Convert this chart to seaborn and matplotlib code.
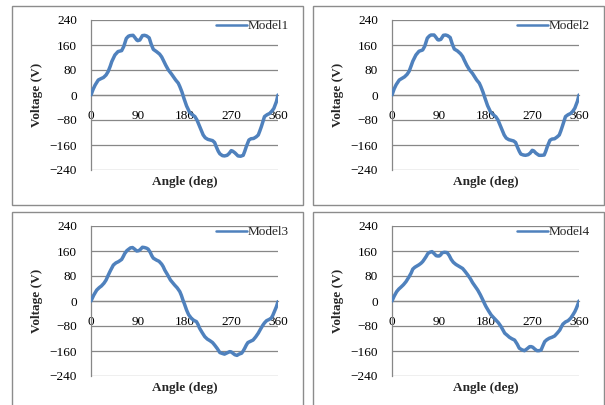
import matplotlib
matplotlib.use("Agg")
import matplotlib.pyplot as plt
from matplotlib.patches import Rectangle
import pandas as pd
import seaborn as sns

# Phase voltage over one electrical period for each machine model
angle_m1 = [0, 4, 8, 14, 20, 24, 29, 33, 37, 40, 46, 52, 59, 63, 68, 72, 75, 81, 84, 88,
            90, 94, 99, 103, 107, 112, 116, 120, 126, 132, 136, 139, 144, 149, 155, 163, 168, 171, 175, 179,
            184, 190, 195, 200, 204, 208, 216, 220, 225, 234, 238, 241, 245, 248, 253, 257, 262, 266, 270, 273,
            277, 283, 288, 293, 296, 299, 304, 308, 313, 318, 322, 325, 328, 334, 339, 344, 348, 352, 357, 360]
volt_m1 = [0, 18, 32, 48, 53, 56, 64, 75, 92, 107, 128, 139, 142, 155, 181, 188, 190, 191, 185, 176,
           174, 176, 190, 191, 189, 183, 162, 146, 139, 131, 122, 112, 95, 80, 67, 48, 38, 27, 10, -11,
           -35, -56, -63, -69, -80, -96, -128, -137, -142, -146, -152, -165, -180, -188, -194, -195, -193, -187, -178, -180,
           -185, -195, -196, -193, -180, -165, -144, -140, -139, -134, -128, -115, -101, -69, -63, -59, -52, -43, -21, 0]

angle_m2 = [0, 4, 8, 14, 20, 24, 29, 33, 37, 40, 46, 52, 59, 63, 68, 72, 75, 81, 84, 88,
            90, 94, 99, 103, 107, 112, 116, 120, 126, 132, 136, 139, 144, 149, 155, 163, 168, 171, 175, 179,
            184, 190, 195, 200, 204, 208, 216, 220, 225, 234, 238, 241, 245, 248, 253, 257, 262, 266, 270, 273,
            277, 283, 288, 293, 296, 299, 304, 308, 313, 318, 322, 325, 328, 334, 339, 344, 348, 352, 357, 360]
volt_m2 = [0, 19, 33, 48, 54, 58, 66, 76, 94, 108, 128, 140, 144, 156, 182, 189, 192, 192, 186, 177,
           176, 178, 191, 192, 190, 184, 163, 147, 141, 132, 123, 112, 95, 81, 69, 48, 38, 27, 10, -10,
           -34, -55, -63, -70, -80, -96, -128, -138, -143, -147, -152, -165, -180, -189, -192, -193, -191, -186, -177, -179,
           -186, -193, -193, -192, -180, -165, -145, -141, -140, -134, -128, -115, -100, -69, -63, -59, -52, -42, -20, 0]

angle_m3 = [0, 5, 11, 16, 20, 25, 29, 33, 37, 43, 48, 53, 59, 62, 65, 69, 72, 76, 80, 84,
            88, 92, 95, 99, 103, 107, 110, 114, 117, 120, 126, 131, 136, 139, 142, 147, 153, 157, 161, 166,
            171, 174, 177, 180, 184, 188, 193, 198, 203, 206, 209, 214, 219, 224, 229, 234, 238, 243, 248, 253,
            257, 262, 267, 270, 273, 277, 281, 285, 290, 293, 296, 299, 302, 307, 312, 317, 322, 326, 331, 334,
            338, 343, 347, 350, 353, 357, 360]
volt_m3 = [0, 18, 35, 43, 48, 57, 67, 82, 96, 115, 122, 126, 133, 142, 152, 161, 165, 170, 171, 166,
           160, 161, 165, 172, 171, 169, 166, 156, 145, 137, 131, 127, 118, 110, 99, 85, 67, 59, 51, 42,
           30, 18, 3, -10, -29, -44, -55, -62, -66, -75, -87, -101, -114, -122, -127, -133, -141, -152, -165, -168,
           -170, -166, -162, -163, -167, -172, -174, -170, -167, -160, -151, -141, -133, -129, -125, -115, -103, -91, -77, -70,
           -63, -59, -55, -46, -34, -18, -2]

angle_m4 = [0, 4, 9, 13, 17, 22, 27, 30, 33, 37, 40, 44, 48, 52, 56, 59, 62, 66, 69, 73,
            77, 81, 85, 88, 91, 94, 96, 101, 106, 110, 114, 118, 123, 129, 136, 141, 146, 151, 155, 160,
            165, 170, 175, 178, 181, 186, 191, 196, 200, 205, 210, 214, 217, 222, 226, 231, 236, 241, 245, 250,
            255, 260, 265, 268, 271, 275, 279, 283, 287, 290, 294, 298, 303, 308, 313, 318, 323, 326, 329, 334,
            339, 344, 348, 352, 355, 358, 360]
volt_m4 = [0, 15, 30, 38, 44, 52, 62, 70, 78, 90, 102, 108, 112, 116, 121, 126, 133, 143, 152, 156,
           158, 152, 145, 144, 144, 148, 154, 156, 155, 146, 133, 124, 117, 111, 104, 94, 83, 71, 59, 47,
           35, 20, 3, -8, -18, -32, -45, -54, -61, -70, -82, -94, -103, -110, -116, -121, -125, -138, -151, -156,
           -159, -153, -146, -146, -148, -154, -159, -159, -157, -145, -130, -124, -119, -116, -112, -103, -93, -83, -74, -67,
           -63, -55, -45, -34, -23, -10, 0]

model_names = ["Model1", "Model2", "Model3", "Model4"]
angles = [angle_m1, angle_m2, angle_m3, angle_m4]
volts = [volt_m1, volt_m2, volt_m3, volt_m4]

x_ticks = [0, 90, 180, 270, 360]
y_ticks = [-240, -160, -80, 0, 80, 160, 240]

sns.set_style("white")
plt.rcParams["font.family"] = ["Liberation Serif", "DejaVu Serif"]

W, H = 605, 405
fig = plt.figure(figsize=(W / 100, H / 100), dpi=100)

line_color = "#4F81BD"
grid_color = "#878787"
frame_color = "#8C8C8C"
fs = 9.5

# (frame left, top, right, bottom, plot left, top, right, bottom) in pixels
layout = [
    (12, 6, 303, 205, 91, 20, 278, 170),
    (313, 6, 604, 205, 392, 20, 579, 170),
    (12, 212, 303, 407, 91, 226, 278, 376),
    (313, 212, 604, 407, 392, 226, 579, 376),
]

for name, ang, vol, box in zip(model_names, angles, volts, layout):
    fl, ft, fr, fb, pl, pt, pr, pb = box
    fig.patches.append(Rectangle((fl / W, 1 - fb / H), (fr - fl) / W, (fb - ft) / H,
                                 transform=fig.transFigure, fill=False,
                                 edgecolor=frame_color, lw=1.0))
    ax = fig.add_axes([pl / W, 1 - pb / H, (pr - pl) / W, (pb - pt) / H])
    df = pd.DataFrame({"Angle": ang, "Voltage": vol})
    sns.lineplot(data=df, x="Angle", y="Voltage", ax=ax, color=line_color,
                 lw=2.5, label=name, zorder=3)
    ax.set_xlim(0, 360)
    ax.set_ylim(-240, 240)
    ax.set_xticks(x_ticks)
    ax.set_yticks(y_ticks)
    ax.grid(axis="y", color=grid_color, lw=0.9)
    ax.grid(axis="x", visible=False)
    ax.set_axisbelow(True)
    for s in ["top", "right"]:
        ax.spines[s].set_visible(False)
    ax.spines["bottom"].set_position(("data", 0))
    ax.spines["bottom"].set_color(grid_color)
    ax.spines["left"].set_color(grid_color)
    ax.spines["bottom"].set_linewidth(0.9)
    ax.spines["left"].set_linewidth(0.9)
    ax.tick_params(axis="both", direction="out", length=2.5, width=0.9,
                   color=grid_color, labelsize=fs, labelcolor="black")
    ax.tick_params(axis="x", pad=8.5)
    ax.tick_params(axis="y", pad=7.5)
    ax.set_xlabel("Angle (deg)", fontsize=fs, fontweight="bold")
    ax.xaxis.label.set_va("center")
    ax.xaxis.set_label_coords(0.5, -12 / (pb - pt))
    ax.set_ylabel("Voltage (V)", fontsize=fs, fontweight="bold")
    ax.yaxis.label.set_va("center")
    ax.yaxis.set_label_coords(-54 / (pr - pl), 0.5)
    leg = ax.legend(loc="upper left", bbox_to_anchor=(0.67, 1.0), frameon=False,
                    fontsize=fs, handlelength=2.3, handletextpad=0.1,
                    borderpad=0, borderaxespad=0)
    for h in leg.get_lines():
        h.set_linewidth(1.8)

fig.savefig("out.png", dpi=100)
